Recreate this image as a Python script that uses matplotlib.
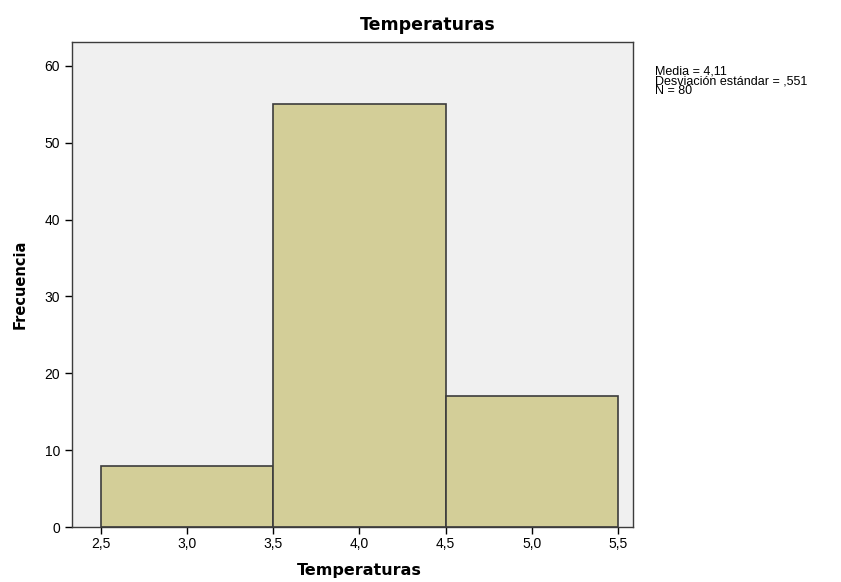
import matplotlib
matplotlib.use("Agg")
import matplotlib.pyplot as plt
from matplotlib.ticker import FuncFormatter

# histogram bins and counts
bin_edges = [2.5, 3.5, 4.5, 5.5]
counts = [8, 55, 17]
stats_lines = ["Media = 4,11", "Desviación estándar = ,551", "N = 80"]

plt.rcParams['font.family'] = ['Liberation Sans', 'DejaVu Sans']

fig = plt.figure(figsize=(8.41, 5.82), dpi=100)
ax = fig.add_axes([0.0856, 0.0945, 0.6671, 0.8333])
ax.set_facecolor('#f0f0f0')

lefts = bin_edges[:-1]
widths = [b - a for a, b in zip(bin_edges[:-1], bin_edges[1:])]
ax.bar(lefts, counts, width=widths, align='edge', color='#d3ce98',
       edgecolor='#3c3c3c', linewidth=1.2)

ax.set_xlim(2.332, 5.587)
ax.set_ylim(0, 63.1)
ax.set_xticks([2.5, 3.0, 3.5, 4.0, 4.5, 5.0, 5.5])
ax.set_yticks(range(0, 61, 10))
ax.xaxis.set_major_formatter(FuncFormatter(lambda v, p: f"{v:.1f}".replace('.', ',')))
ax.tick_params(direction='out', length=5, width=1, labelsize=10, color='black')
ax.tick_params(axis='x', pad=2)

for s in ax.spines.values():
    s.set_color('#3c3c3c')
    s.set_linewidth(1)

# titles placed like the SPSS output
bold = dict(fontweight='bold', family=['DejaVu Sans'])
fig.text(428 / 841, 1 - 25 / 582, 'Temperaturas', fontsize=12.5, ha='center', va='center', **bold)
fig.text(359 / 841, 1 - 571 / 582, 'Temperaturas', fontsize=11.5, ha='center', va='center', **bold)
fig.text(20 / 841, 1 - 284 / 582, 'Frecuencia', fontsize=10.5, rotation=90,
         ha='center', va='center', **bold)

# stats box at the right, one block of tight lines
fig.text(655 / 841, 1 - 66 / 582, "\n".join(stats_lines), fontsize=9,
         va='top', ha='left', linespacing=0.75)

fig.savefig('out.png', dpi=100)
